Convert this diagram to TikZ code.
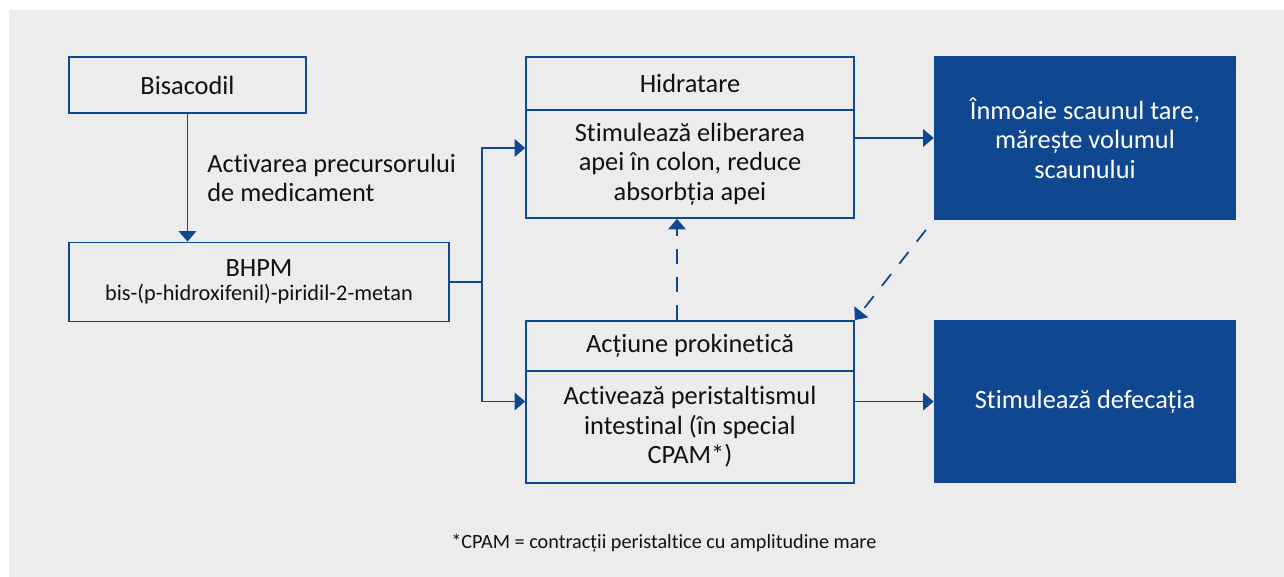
\documentclass[tikz,border=0pt]{standalone}
\usepackage{fontspec}
\setmainfont{Carlito}[RawFeature={-liga;-dlig;-calt;-clig}]
\usetikzlibrary{arrows.meta,positioning}
\definecolor{darkblue}{HTML}{0F4790}
\definecolor{bggray}{HTML}{ECECEC}
\definecolor{txtblack}{HTML}{111111}

\begin{document}
\begin{tikzpicture}[x=0.02cm,y=-0.02cm,
    font=\fontsize{15}{16.8}\selectfont,
    box/.style={draw=darkblue,line width=1pt,text=txtblack,align=center,inner sep=0pt},
    darkbox/.style={fill=darkblue,text=white,align=center,inner sep=0pt,minimum width=6.04cm,minimum height=3.27cm},
    flow/.style={darkblue,line width=1pt,-{Triangle[length=0.21cm,width=0.35cm]}},
    dashflow/.style={flow,dash pattern=on 8.5pt off 7.5pt}]
    \useasboundingbox (0,0) rectangle (1284,577);
    \fill[white] (0,0) rectangle (1284,577);
    \fill[bggray] (9,10) rectangle (1284,577);

    % left column
    \node[box,minimum width=4.74cm,minimum height=1.12cm] (bisa) at (187.5,85) {Bisacodil};
    \node[box,minimum width=7.6cm,minimum height=1.58cm] (bhpm) at (259,282)
        {BHPM\\[-3pt]{\fontsize{12.7}{14}\selectfont bis-(p-hidroxifenil)-piridil-2-metan}};
    \draw[flow] (bisa.south) -- node[midway,right=0.38cm,inner sep=0pt,align=left,text=txtblack]
        {Activarea precursorului\\de medicament} (bisa.south |- bhpm.north);

    % middle column
    \node[box,minimum width=6.56cm,minimum height=1.06cm] (hidTitle) at (690,83.5) {Hidratare};
    \node[box,minimum width=6.56cm,minimum height=2.16cm,below=-1pt of hidTitle] (hidBody)
        {Stimulează eliberarea\\apei în colon, reduce\\absorbția apei};
    \node[box,minimum width=6.56cm,minimum height=1.0cm] (prokTitle) at (690,346) {Acțiune prokinetică};
    \node[box,minimum width=6.56cm,minimum height=2.24cm,below=-1pt of prokTitle] (prokBody)
        {Activează peristaltismul\\intestinal (în special\\CPAM*)};

    % right column
    \node[darkbox] (soft) at (1085,138) {Înmoaie scaunul tare,\\mărește volumul\\scaunului};
    \node[darkbox] (defec) at (1085,401.5) {Stimulează defecația};

    % connectors
    \coordinate (fork) at ([xshift=0.64cm]bhpm.east);
    \draw[darkblue,line width=1pt] (bhpm.east) -- (fork);
    \draw[flow] (fork) |- ([yshift=0.32cm]hidBody.west);
    \draw[flow] (fork) |- (prokBody.west |- defec);
    \draw[flow] (hidBody.east |- soft) -- (soft.west);
    \draw[flow] (prokBody.east |- defec) -- (defec.west);
    \draw[dashflow] ([xshift=-0.26cm]prokTitle.north) -- ([xshift=-0.26cm]hidBody.south);
    \draw[dashflow,shorten <=0.25cm] (soft.south west) -- (prokTitle.north east);

    \node[anchor=west,inner sep=0pt,text=txtblack,font=\fontsize{11.5}{13}\selectfont] (note) at (451,543)
        {*CPAM = contracții peristaltice cu amplitudine mare};
\end{tikzpicture}
\end{document}
